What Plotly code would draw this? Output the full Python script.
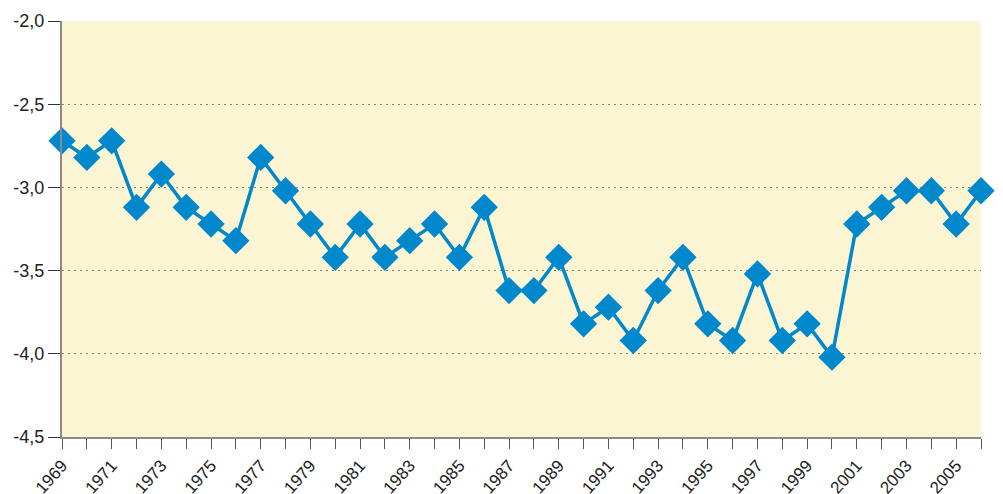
import plotly.graph_objects as go

# -----------------------------------------------------------------------------

years = list(range(1969, 2007))

valores = [-2.72, -2.82, -2.72, -3.12, -2.92, -3.12, -3.22, -3.32, -2.82, -3.02,
           -3.22, -3.42, -3.22, -3.42, -3.32, -3.22, -3.42, -3.12, -3.62, -3.62,
           -3.42, -3.82, -3.72, -3.92, -3.62, -3.42, -3.82, -3.92, -3.52, -3.92,
           -3.82, -4.02, -3.22, -3.12, -3.02, -3.02, -3.22, -3.02]

label_years = list(range(1969, 2007, 2))
y_ticks = [-2.0, -2.5, -3.0, -3.5, -4.0, -4.5]
y_labels = ["-2,0", "-2,5", "-3,0", "-3,5", "-4,0", "-4,5"]


def main():

    fig = go.Figure()

    fig.add_trace(go.Scatter(
        x=years, y=valores, mode="lines+markers",
        line=dict(color="#0088cc", width=3.5),
        marker=dict(symbol="diamond", size=21, color="#0088cc"),
        cliponaxis=False, showlegend=False))

    font = "Liberation Sans, Arial, sans-serif"

    fig.update_xaxes(
        range=[1969, 2006], automargin=False,
        tickvals=label_years, ticktext=[str(y) for y in label_years],
        tickangle=-48, ticks="outside", ticklen=10, tickcolor="#555",
        tickfont=dict(family=font, size=17, color="#222"),
        minor=dict(tickvals=years, ticks="outside", ticklen=10, tickcolor="#555"),
        showgrid=False, showline=True, linecolor="#8a8a8a", linewidth=2,
        zeroline=False)

    fig.update_yaxes(
        range=[-4.5, -2.0], automargin=False,
        tickvals=y_ticks, ticktext=y_labels,
        ticks="outside", ticklen=12, tickcolor="#333",
        tickfont=dict(family=font, size=18, color="#222"),
        showgrid=True, gridcolor="#8c8470", griddash="2px,4px", gridwidth=1,
        showline=True, linecolor="#8a8a8a", linewidth=2, zeroline=False)

    # the page body adds 8px around the figure, so shift everything back
    fig.update_layout(
        width=995, height=486,
        margin=dict(l=54, r=22, t=13, b=57),
        plot_bgcolor="#fcf5d3", paper_bgcolor="white")

    fig.write_html("out.html")


if __name__ == '__main__':
    main()
